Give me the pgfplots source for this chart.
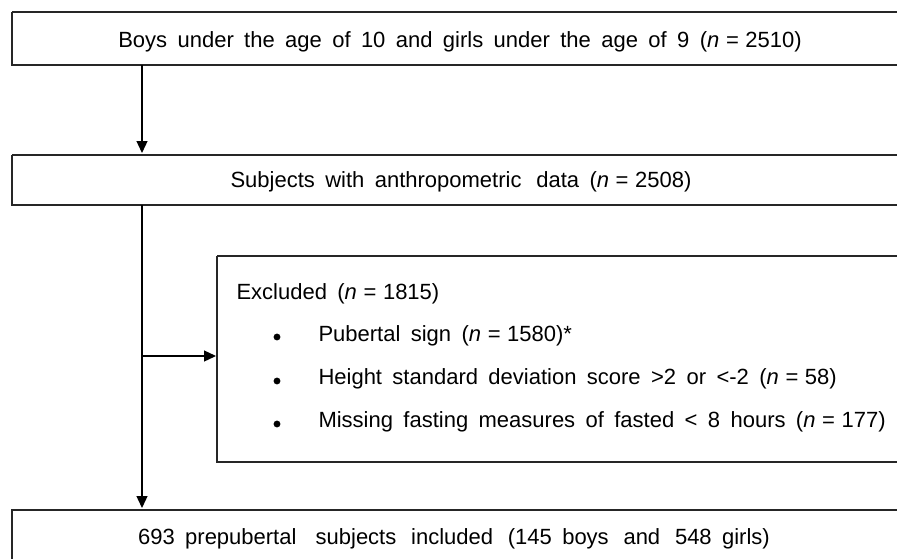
\documentclass[border=0pt]{standalone}
\usepackage{pgfplots}
\pgfplotsset{compat=1.18}
\usepackage{fontspec}
\setmainfont[WordSpace={1.7,1,1}]{Liberation Sans}
\usetikzlibrary{arrows.meta}
\newcommand{\eq}{\kern0.3em=\kern0.3em}
\begin{document}
\begin{tikzpicture}
\begin{axis}[
  width=897bp, height=559bp, scale only axis,
  xmin=0, xmax=897, ymin=0, ymax=559, y dir=reverse,
  axis lines=none, ticks=none, clip=true,
]
% boxes
\addplot[line width=1.3bp, color=black!85] coordinates {(12,12) (905,12) (905,65) (12,65) (12,12)};
\addplot[line width=1.3bp, color=black!85] coordinates {(12,155) (905,155) (905,205) (12,205) (12,155)};
\addplot[line width=1.3bp, color=black!85] coordinates {(217,256) (905,256) (905,462) (217,462) (217,256)};
\addplot[line width=1.3bp, color=black!85] coordinates {(12,600) (12,510) (905,510) (905,600)};
% connectors
\addplot[line width=1.3bp, black, -{Triangle[length=12bp,width=11bp]}] coordinates {(142,65) (142,153)};
\addplot[line width=1.3bp, black, -{Triangle[length=12bp,width=11bp]}] coordinates {(142,205) (142,508)};
\addplot[line width=1.3bp, black, -{Triangle[length=12bp,width=11bp]}] coordinates {(142,356) (216,356)};
% bullets
\addplot[only marks, mark=*, mark size=3.2bp, black] coordinates {(277,337) (277,381) (277,424)};
% texts
\node[anchor=center, font=\fontsize{22bp}{26bp}\selectfont] at (axis cs:460,42) {Boys under the age of 10 and girls under the age of 9 (\textit{n}\eq 2510)};
\node[anchor=center, font=\fontsize{22bp}{26bp}\selectfont] at (axis cs:461,182) {Subjects with anthropometric\hspace{0.2em} data (\textit{n}\eq 2508)};
\node[anchor=west, font=\fontsize{22bp}{26bp}\selectfont] at (axis cs:233,294) {Excluded (\textit{n}\eq 1815)};
\node[anchor=west, font=\fontsize{22bp}{26bp}\selectfont] at (axis cs:315,336) {Pubertal sign (\textit{n}\eq 1580)*};
\node[anchor=west, font=\fontsize{22bp}{26bp}\selectfont] at (axis cs:315,379) {Height standard deviation score >2 or <-2 (\textit{n}\eq 58)};
\node[anchor=west, font=\fontsize{22bp}{26bp}\selectfont] at (axis cs:315,422) {Missing fasting measures of fasted < 8 hours (\textit{n}\eq 177)};
\node[anchor=center, font=\fontsize{22bp}{26bp}\selectfont] at (axis cs:454,539) {693 prepubertal\hspace{0.4em} subjects\hspace{0.2em} included\hspace{0.2em} (145 boys\hspace{0.2em} and\hspace{0.2em} 548 girls)};
\end{axis}
\pgfresetboundingbox
\path (current axis.south west) rectangle (current axis.north east);
\end{tikzpicture}
\end{document}
